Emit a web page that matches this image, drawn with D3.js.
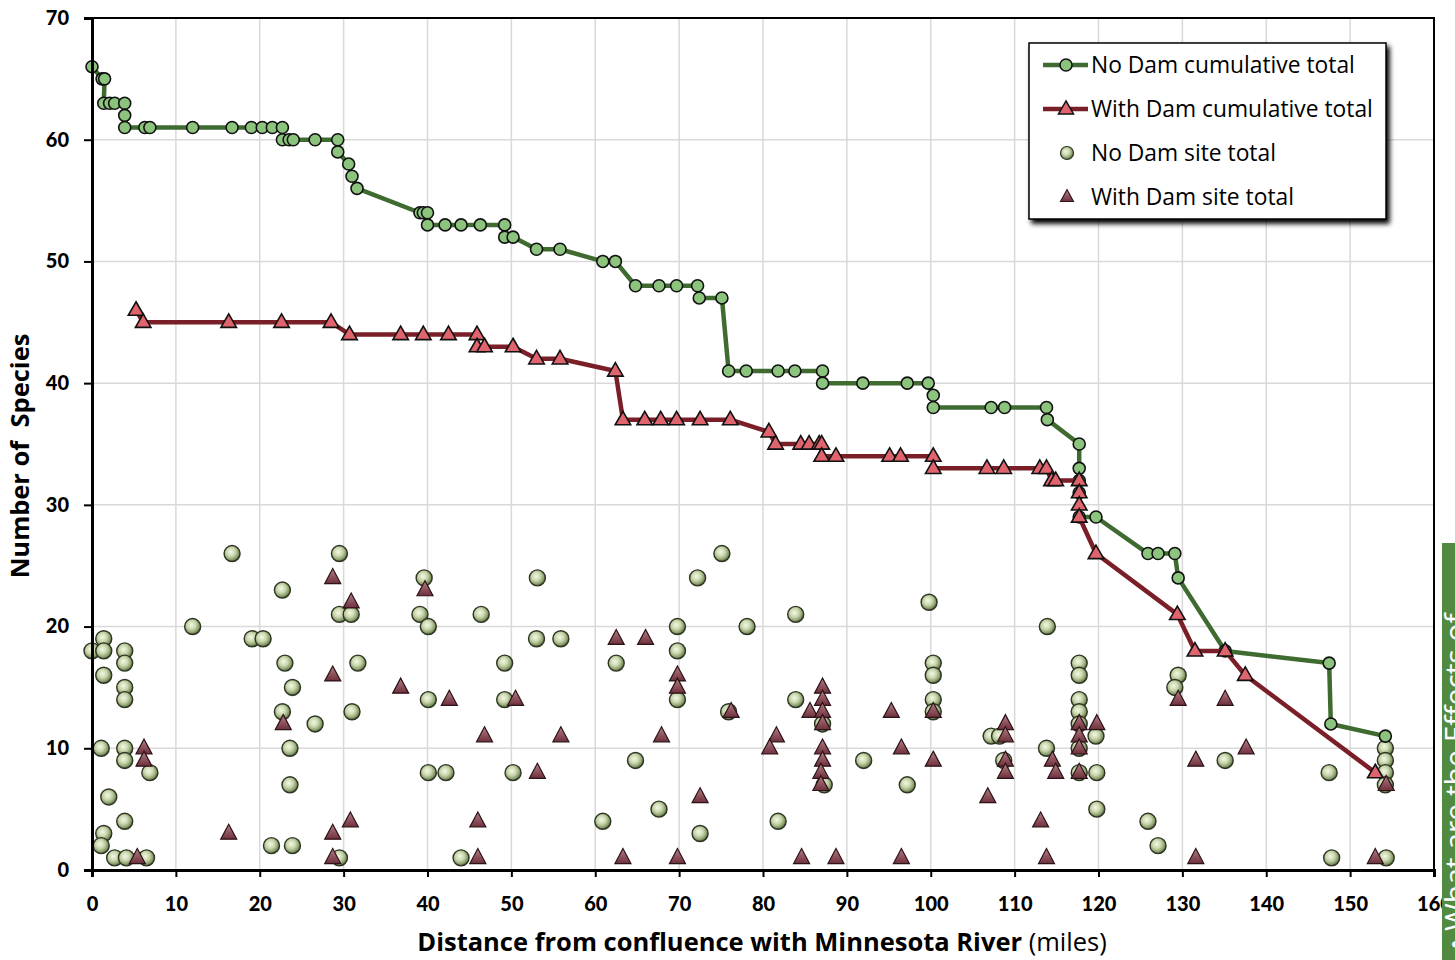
<!DOCTYPE html>
<html>
<head>
<meta charset="utf-8">
<script src="https://cdn.jsdelivr.net/npm/d3@7"></script>
<style>
  html, body { margin: 0; padding: 0; background: #fff; }
  svg { display: block; }
  text { font-family: "Open Sans", Lato, sans-serif; }
</style>
</head>
<body>
<svg id="chart" width="1455" height="960"></svg>
<script>
// Cumulative species totals moving upstream (distance in miles, species count)
const noDamCumDist = [0,1.2,1.5,1.4,2.1,2.7,3.9,3.9,3.9,6.3,6.9,12.0,16.7,19.0,20.3,21.5,22.7,22.7,23.5,24.0,26.6,29.3,29.3,30.6,31.0,31.6,39.1,39.5,40.0,40.0,42.1,44.0,46.3,49.2,49.2,50.2,53.0,55.8,60.9,62.4,64.8,67.6,69.7,72.2,72.4,75.1,75.9,78.0,81.8,83.8,87.1,87.1,91.9,97.2,99.7,100.3,100.3,107.2,108.8,113.8,113.9,117.7,117.7,117.7,117.7,117.7,119.7,125.9,127.1,129.1,129.5,135.1,147.5,147.7,154.2];
const noDamCumSpecies = [66,65,65,63,63,63,63,62,61,61,61,61,61,61,61,61,61,60,60,60,60,60,59,58,57,56,54,54,54,53,53,53,53,53,52,52,51,51,50,50,48,48,48,48,47,47,41,41,41,41,41,40,40,40,40,39,38,38,38,38,37,35,33,32,31,29,29,26,26,26,24,18,17,12,11];

const withDamCumDist = [5.25,6.1,16.3,22.6,28.5,30.7,36.8,39.5,42.5,45.9,45.9,46.8,50.2,53.0,55.8,62.4,63.3,65.9,67.8,69.7,72.5,76.1,80.7,81.5,84.5,85.5,86.7,87.0,87.0,88.7,95.1,96.4,100.3,100.3,106.7,108.7,113.0,113.8,114.4,114.9,117.7,117.7,117.7,117.7,119.7,129.4,131.5,135.1,137.5,153.0];
const withDamCumSpecies = [46,45,45,45,45,44,44,44,44,44,43,43,43,42,42,41,37,37,37,37,37,37,36,35,35,35,35,35,34,34,34,34,34,33,33,33,33,33,32,32,32,31,30,29,26,21,18,18,16,8];

// Species found at each individual site
const noDamSiteDist = [16.7,29.5,39.6,22.7,29.5,30.9,39.1,40.1,12.0,1.4,19.1,20.4,0,1.4,3.9,3.9,23.0,31.7,1.4,23.9,3.9,3.9,40.1,22.7,31.0,26.6,1.1,3.9,23.6,3.9,6.9,40.1,23.6,2.0,3.9,1.4,1.1,21.4,23.9,2.7,4.1,6.5,29.5,
  75.1,53.1,72.2,46.4,83.9,69.8,78.1,53.0,55.9,69.8,49.2,62.5,49.2,69.8,83.9,75.9,64.8,42.2,50.2,67.6,60.9,81.8,72.5,44.0,87.3,
  99.8,113.9,100.3,100.3,117.7,117.7,129.5,129.1,100.3,100.3,117.7,117.7,117.7,107.2,108.2,108.7,119.7,113.8,117.7,92.0,135.1,97.2,117.7,119.8,119.8,125.9,127.1,87.1,
  147.5,154.2,154.2,154.2,154.2,147.8,154.3];
const noDamSiteSpecies = [26,26,24,23,21,21,21,20,20,19,19,19,18,18,18,17,17,17,16,15,15,14,14,13,13,12,10,10,10,9,8,8,7,6,4,3,2,2,2,1,1,1,1,
  26,24,24,21,21,20,20,19,19,18,17,17,14,14,14,13,9,8,8,5,4,4,3,1,7,
  22,20,17,16,17,16,16,15,14,13,14,13,12,11,11,9,11,10,10,9,9,7,8,8,5,4,2,12,
  8,10,9,8,7,1,1];

const withDamSiteDist = [28.7,39.7,30.9,28.7,36.8,22.8,6.2,6.2,16.3,28.7,30.8,5.4,28.7,
  62.5,66.0,69.8,69.8,42.6,50.5,76.2,87.1,87.1,85.6,87.1,87.1,46.8,55.9,67.9,81.6,80.8,87.1,87.1,86.9,86.9,53.1,72.5,46.0,46.0,63.3,69.8,84.6,88.7,
  95.3,100.3,96.5,100.3,106.8,108.9,108.9,108.9,108.9,113.1,114.5,114.9,117.7,117.7,117.7,117.7,119.8,129.5,135.1,131.6,137.6,96.5,113.8,131.6,153.0,154.3];
const withDamSiteSpecies = [24,23,22,16,15,12,10,9,3,3,4,1,1,
  19,19,16,15,14,14,13,15,14,13,13,12,11,11,11,11,10,10,9,8,7,8,6,4,1,1,1,1,1,
  13,13,10,9,6,12,11,9,8,4,9,8,12,11,10,8,12,14,14,9,10,1,1,1,1,7];

const xTicks = [0,10,20,30,40,50,60,70,80,90,100,110,120,130,140,150,160];
const yTicks = [0,10,20,30,40,50,60,70];

const legendLabels = ["No Dam cumulative total","With Dam cumulative total","No Dam site total","With Dam site total"];

const svg = d3.select("#chart");
const x = d3.scaleLinear().domain([0,160]).range([92,1434]);
const y = d3.scaleLinear().domain([0,70]).range([870,18]);

const defs = svg.append("defs");
const gc = defs.append("radialGradient").attr("id","siteCircle").attr("cx","42%").attr("cy","40%").attr("r","62%");
gc.append("stop").attr("offset","0%").attr("stop-color","#f4f8e4");
gc.append("stop").attr("offset","45%").attr("stop-color","#c9d6ad");
gc.append("stop").attr("offset","80%").attr("stop-color","#869a67");
gc.append("stop").attr("offset","100%").attr("stop-color","#3e4a30");
const gt = defs.append("linearGradient").attr("id","siteTri").attr("x1","0").attr("y1","0").attr("x2","0").attr("y2","1");
gt.append("stop").attr("offset","0%").attr("stop-color","#b57f87");
gt.append("stop").attr("offset","100%").attr("stop-color","#6e2f3b");
const sh = defs.append("filter").attr("id","shadow").attr("x","-10%").attr("y","-10%").attr("width","130%").attr("height","130%");
sh.append("feGaussianBlur").attr("in","SourceAlpha").attr("stdDeviation","2.5");
sh.append("feOffset").attr("dx","3").attr("dy","4").attr("result","b");
const shm = sh.append("feMerge");
shm.append("feMergeNode").attr("in","b");
shm.append("feMergeNode").attr("in","SourceGraphic");
const soft = defs.append("filter").attr("id","soft");
soft.append("feGaussianBlur").attr("stdDeviation","0.5");

// gridlines
const grid = svg.append("g");
grid.selectAll("line.v").data(xTicks.slice(1,-1)).join("line")
  .attr("x1",d=>x(d)).attr("x2",d=>x(d)).attr("y1",y(70)).attr("y2",y(0))
  .attr("stroke","#d9d9d9").attr("stroke-width",1.5);
grid.selectAll("line.h").data(yTicks.slice(1,-1)).join("line")
  .attr("x1",x(0)).attr("x2",x(160)).attr("y1",d=>y(d)).attr("y2",d=>y(d))
  .attr("stroke","#d9d9d9").attr("stroke-width",1.5);

// plot frame
svg.append("rect").attr("x",x(0)).attr("y",y(70)).attr("width",x(160)-x(0)).attr("height",y(0)-y(70))
  .attr("fill","none").attr("stroke","#000").attr("stroke-width",2);

const triPath = (w,h) => `M0,${-h*0.62}L${w/2},${h*0.38}L${-w/2},${h*0.38}Z`;

// site totals
const noDamSites = noDamSiteDist.map((d,i)=>[d,noDamSiteSpecies[i]]);
const withDamSites = withDamSiteDist.map((d,i)=>[d,withDamSiteSpecies[i]]);
const sites = svg.append("g").attr("filter","url(#soft)");
sites.selectAll("circle").data(noDamSites).join("circle")
  .attr("cx",d=>x(d[0])).attr("cy",d=>y(d[1])).attr("r",8)
  .attr("fill","url(#siteCircle)").attr("stroke","#2e3624").attr("stroke-width",1.4);
sites.selectAll("path").data(withDamSites).join("path")
  .attr("transform",d=>`translate(${x(d[0])},${y(d[1])})`)
  .attr("d",triPath(16,15))
  .attr("fill","url(#siteTri)").attr("stroke","#2a1216").attr("stroke-width",1.2);

// cumulative lines
const line = d3.line().x(d=>x(d[0])).y(d=>y(d[1]));
const noDamCum = noDamCumDist.map((d,i)=>[d,noDamCumSpecies[i]]);
const withDamCum = withDamCumDist.map((d,i)=>[d,withDamCumSpecies[i]]);

svg.append("path").datum(noDamCum).attr("d",line).attr("fill","none")
  .attr("stroke","#3f6b30").attr("stroke-width",4.5).attr("stroke-linejoin","round");
svg.append("g").selectAll("circle").data(noDamCum).join("circle")
  .attr("cx",d=>x(d[0])).attr("cy",d=>y(d[1])).attr("r",6)
  .attr("fill","#8cc47d").attr("stroke","#111").attr("stroke-width",1.6);

svg.append("path").datum(withDamCum).attr("d",line).attr("fill","none")
  .attr("stroke","#7a1e27").attr("stroke-width",4.5).attr("stroke-linejoin","round");
svg.append("g").selectAll("path").data(withDamCum).join("path")
  .attr("transform",d=>`translate(${x(d[0])},${y(d[1])})`)
  .attr("d",triPath(15.5,13.5))
  .attr("fill","#e0646e").attr("stroke","#111").attr("stroke-width",1.6);

// axes
const xAxis = svg.append("g").attr("transform",`translate(0,${y(0)})`)
  .call(d3.axisBottom(x).tickValues(xTicks).tickSize(7).tickPadding(20).tickFormat(d3.format("d")));
const yAxis = svg.append("g").attr("transform",`translate(${x(0)},0)`)
  .call(d3.axisLeft(y).tickValues(yTicks).tickSize(8).tickPadding(15).tickFormat(d3.format("d")));
[xAxis,yAxis].forEach(a=>{
  a.select(".domain").attr("stroke","#000").attr("stroke-width",3);
  a.selectAll(".tick line").attr("stroke","#000").attr("stroke-width",2);
  a.selectAll(".tick text").attr("fill","#000").attr("font-size",20).attr("font-weight",900)
    .style("font-family","Lato, sans-serif");
});

// axis titles
const xt = svg.append("text").attr("x",762).attr("y",951).attr("text-anchor","middle")
  .attr("font-size",25.5).attr("fill","#000");
xt.append("tspan").attr("font-weight",700).text("Distance from confluence with Minnesota River");
xt.append("tspan").attr("font-weight",400).text(" (miles)");
svg.append("text").attr("transform","translate(29,456) rotate(-90)").attr("text-anchor","middle")
  .attr("font-size",25.5).attr("font-weight",700).attr("fill","#000").attr("xml:space","preserve")
  .text("Number of  Species");

// legend
const lg = svg.append("g");
lg.append("rect").attr("x",1029).attr("y",43).attr("width",357).attr("height",176)
  .attr("fill","#fff").attr("stroke","#000").attr("stroke-width",1.5).attr("filter","url(#shadow)");
const rows = [65,109,153,197];
lg.append("line").attr("x1",1043).attr("x2",1088).attr("y1",rows[0]).attr("y2",rows[0]).attr("stroke","#3f6b30").attr("stroke-width",4.5);
lg.append("circle").attr("cx",1066).attr("cy",rows[0]).attr("r",6).attr("fill","#8cc47d").attr("stroke","#111").attr("stroke-width",1.5);
lg.append("line").attr("x1",1043).attr("x2",1088).attr("y1",rows[1]).attr("y2",rows[1]).attr("stroke","#7a1e27").attr("stroke-width",4.5);
lg.append("path").attr("transform",`translate(1066,${rows[1]})`).attr("d",triPath(15,13)).attr("fill","#e0646e").attr("stroke","#111").attr("stroke-width",1.5);
lg.append("circle").attr("cx",1067).attr("cy",rows[2]).attr("r",6.5).attr("fill","url(#siteCircle)").attr("stroke","#2e3624").attr("stroke-width",1.2).attr("filter","url(#soft)");
lg.append("path").attr("transform",`translate(1067,${rows[3]})`).attr("d",triPath(13,12)).attr("fill","url(#siteTri)").attr("stroke","#2a1216").attr("stroke-width",1.1).attr("filter","url(#soft)");
lg.selectAll("text.lab").data(legendLabels).join("text")
  .attr("x",1091).attr("y",(d,i)=>rows[i]+8).attr("font-size",22.8).attr("fill","#000").text(d=>d);

// side panel at right edge
svg.append("rect").attr("x",1442).attr("y",543).attr("width",13).attr("height",417).attr("fill","#528a42");
svg.append("text").attr("transform","translate(1466,950) rotate(-90)")
  .attr("font-size",30).attr("fill","#fff").text("• What are the Effects of");
</script>
</body>
</html>
